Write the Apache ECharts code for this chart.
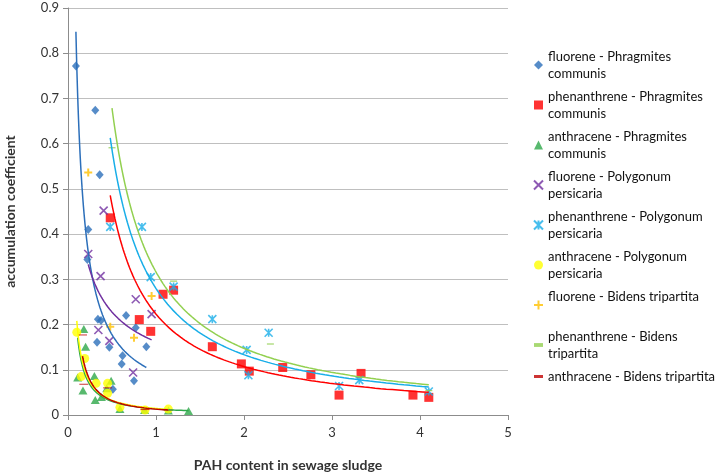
<!DOCTYPE html>
<html><head><meta charset="utf-8">
<script src="https://cdn.jsdelivr.net/npm/echarts@6/dist/echarts.min.js"></script>
<style>html,body{margin:0;padding:0;background:#fff}#c{width:720px;height:473px}</style>
</head><body><div id="c"></div>
<script>
// ---- data ----
const seriesNames = [
  'fluorene - Phragmites communis',
  'phenanthrene - Phragmites communis',
  'anthracene - Phragmites communis',
  'fluorene - Polygonum persicaria',
  'phenanthrene - Polygonum persicaria',
  'anthracene - Polygonum persicaria',
  'fluorene - Bidens tripartita',
  'phenanthrene - Bidens tripartita',
  'anthracene - Bidens tripartita'
];
const legendLabels = [
  'fluorene - Phragmites\ncommunis',
  'phenanthrene - Phragmites\ncommunis',
  'anthracene - Phragmites\ncommunis',
  'fluorene - Polygonum\npersicaria',
  'phenanthrene - Polygonum\npersicaria',
  'anthracene - Polygonum\npersicaria',
  'fluorene - Bidens tripartita\n ',
  'phenanthrene - Bidens\ntripartita',
  'anthracene - Bidens tripartita'
];
const fluorenePhragmites = [[0.09,0.772],[0.31,0.674],[0.36,0.531],[0.23,0.41],[0.22,0.344],[0.34,0.212],[0.375,0.209],[0.66,0.22],[0.77,0.193],[0.33,0.161],[0.47,0.15],[0.62,0.131],[0.61,0.113],[0.89,0.151],[0.75,0.076],[0.51,0.057]];
const phenanthrenePhragmites = [[0.48,0.436],[0.81,0.211],[0.94,0.185],[1.08,0.267],[1.2,0.276],[1.64,0.151],[1.97,0.113],[2.06,0.097],[2.44,0.105],[2.76,0.089],[3.08,0.044],[3.33,0.092],[3.92,0.044],[4.1,0.039]];
const anthracenePhragmites = [[0.18,0.19],[0.2,0.151],[0.11,0.083],[0.3,0.086],[0.17,0.054],[0.31,0.033],[0.38,0.04],[0.49,0.076],[0.44,0.059],[0.59,0.013],[0.87,0.011],[1.14,0.01],[1.37,0.009]];
const fluorenePolygonum = [[0.405,0.452],[0.23,0.356],[0.37,0.307],[0.77,0.256],[0.95,0.223],[0.345,0.188],[0.47,0.164],[0.74,0.094]];
const phenanthrenePolygonum = [[0.48,0.416],[0.84,0.416],[0.94,0.305],[1.2,0.284],[1.64,0.212],[2.03,0.144],[2.05,0.088],[2.28,0.182],[3.08,0.064],[3.31,0.077],[4.1,0.052]];
const anthracenePolygonum = [[0.1,0.183],[0.19,0.125],[0.15,0.085],[0.32,0.07],[0.45,0.07],[0.45,0.048],[0.59,0.017],[0.875,0.011],[1.14,0.013]];
const fluoreneBidens = [[0.23,0.536],[0.48,0.195],[0.75,0.171],[0.95,0.263]];
const phenanthreneBidens = [[0.5,0.591],[1.2,0.296],[2.3,0.157],[4.1,0.054]];
const anthraceneBidens = [[0.165,0.177],[0.18,0.068],[0.45,0.06],[0.875,0.012],[1.14,0.011]];
const xAxisTicks = [0,1,2,3,4,5];
const yAxisTicks = [0,0.1,0.2,0.3,0.4,0.5,0.6,0.7,0.8,0.9];
const xTitle = 'PAH content in sewage sludge';
const yTitle = 'accumulation coefficient';

const allData = [fluorenePhragmites, phenanthrenePhragmites, anthracenePhragmites, fluorenePolygonum,
  phenanthrenePolygonum, anthracenePolygonum, fluoreneBidens, phenanthreneBidens, anthraceneBidens];
const colors = ['#2C6FBA','#FF0000','#2EA84A','#7030A0','#19AEE8','#FFFF00','#FFC000','#92D050','#C00000'];
const hasTrend = [true,true,true,true,true,true,false,true,true];

const X_PATH = 'path://M0,0L10,10M0,10L10,0';
const STAR_PATH = 'path://M0,0L10,10M0,10L10,0M5,0L5,10';
const PLUS_PATH = 'path://M5,0L5,10M0,5L10,5';
const DASH_PATH = 'path://M0,0L7,0L7,3L0,3Z';
const DASH2_PATH = 'path://M0,0L9,0L9,3L0,3Z';
const symbols = [
  {symbol:'diamond', size:[8,9]},
  {symbol:'rect', size:9},
  {symbol:'triangle', size:[9,8]},
  {symbol:X_PATH, size:8, stroke:true, bw:1.6},
  {symbol:STAR_PATH, size:8, stroke:true, bw:1.6},
  {symbol:'circle', size:9},
  {symbol:PLUS_PATH, size:8, stroke:true, bw:2},
  {symbol:DASH_PATH, size:[7,3]},
  {symbol:DASH2_PATH, size:[9,3]}
];

// Excel-style power trendline: least squares on ln(x), ln(y), drawn over the data's x range
function powerTrend(pts){
  const n = pts.length;
  let sx=0, sy=0, sxx=0, sxy=0, minX=Infinity, maxX=-Infinity;
  pts.forEach(p=>{const lx=Math.log(p[0]), ly=Math.log(p[1]); sx+=lx; sy+=ly; sxx+=lx*lx; sxy+=lx*ly;
    minX=Math.min(minX,p[0]); maxX=Math.max(maxX,p[0]);});
  const b = (n*sxy - sx*sy)/(n*sxx - sx*sx);
  const a = Math.exp((sy - b*sx)/n);
  const out = [];
  const steps = 120;
  for(let i=0;i<=steps;i++){
    const x = minX*Math.pow(maxX/minX, i/steps);
    out.push([x, a*Math.pow(x,b)]);
  }
  return out;
}

const series = [];
allData.forEach((d,i)=>{
  const s = symbols[i];
  const itemStyle = s.stroke ? {color:'rgba(0,0,0,0)', borderColor:colors[i], borderWidth:s.bw}
                             : {color:colors[i], borderWidth:0};
  series.push({
    name: seriesNames[i], type:'scatter', data:d, symbol:s.symbol, symbolSize:s.size,
    symbolKeepAspect:true, itemStyle, z:2, animation:false
  });
});
allData.forEach((d,i)=>{
  if(!hasTrend[i]) return;
  series.push({
    name: seriesNames[i] + ' trend', type:'line', data: powerTrend(d), showSymbol:false, symbol:'none',
    lineStyle:{color:colors[i], width:1.5}, z:3, silent:true, animation:false
  });
});

const chart = echarts.init(document.getElementById('c'), null, {renderer:'canvas'});
const fontFam = 'Lato, "Open Sans", sans-serif';
chart.setOption({
  backgroundColor:'#fff',
  animation:false,
  grid:{left:68, right:212, top:8, bottom:58, containLabel:false, outerBoundsMode:'none'},
  xAxis:{
    type:'value', min:xAxisTicks[0], max:xAxisTicks[xAxisTicks.length-1], interval:1,
    name:xTitle, nameLocation:'middle', nameGap:43,
    nameTextStyle:{fontFamily:fontFam, fontWeight:'bold', fontSize:14, color:'#333'},
    axisLine:{show:true, onZero:false, lineStyle:{color:'#8C8C8C', width:1}},
    axisTick:{show:true, inside:false, length:5, lineStyle:{color:'#8C8C8C'}},
    axisLabel:{fontFamily:fontFam, fontSize:13, color:'#333', margin:11},
    splitLine:{show:false}
  },
  yAxis:{
    type:'value', min:yAxisTicks[0], max:yAxisTicks[yAxisTicks.length-1], interval:0.1,
    name:yTitle, nameLocation:'middle', nameGap:51, nameRotate:90,
    nameTextStyle:{fontFamily:fontFam, fontWeight:'bold', fontSize:14, color:'#333'},
    axisLine:{show:true, lineStyle:{color:'#8C8C8C', width:1}},
    axisTick:{show:true, inside:false, length:5, lineStyle:{color:'#8C8C8C'}},
    axisLabel:{fontFamily:fontFam, fontSize:13, color:'#333', margin:9,
      formatter:v=>String(Math.round(v*10)/10)},
    splitLine:{show:true, lineStyle:{color:'#BFBFBF', width:1}}
  },
  legend:{
    orient:'vertical', left:533, top:39.5, padding:0, itemGap:-11,
    itemWidth:9, itemHeight:9, selectedMode:false,
    data: seriesNames,
    formatter: name => legendLabels[seriesNames.indexOf(name)],
    textStyle:{fontFamily:fontFam, fontSize:13, color:'#111', lineHeight:17, padding:[17,0,0,0]}
  },
  series
});
</script></body></html>
